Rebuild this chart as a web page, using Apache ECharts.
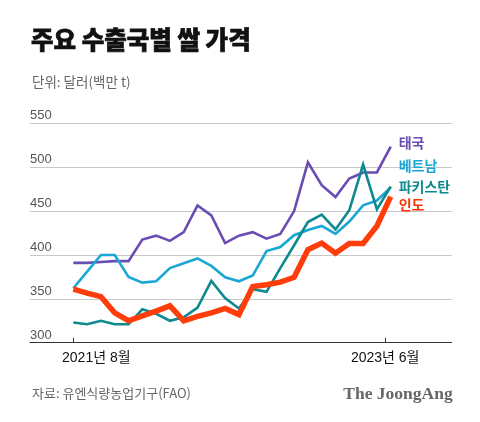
<!DOCTYPE html>
<html>
<head>
<meta charset="utf-8">
<script src="https://cdn.jsdelivr.net/npm/echarts@6/dist/echarts.min.js"></script>
<style>
  html, body { margin: 0; padding: 0; background: #fff; }
  #chart { width: 480px; height: 422px; }
</style>
</head>
<body>
<div id="chart"></div>
<script>
// Monthly export prices (USD per tonne), Aug 2021 – Jul 2023
const months = [
  '2021-08','2021-09','2021-10','2021-11','2021-12',
  '2022-01','2022-02','2022-03','2022-04','2022-05','2022-06','2022-07','2022-08','2022-09','2022-10','2022-11','2022-12',
  '2023-01','2023-02','2023-03','2023-04','2023-05','2023-06','2023-07'
];
const seriesNames = ['태국', '베트남', '파키스탄', '인도'];
const thai     = [391, 391, 392, 393, 393, 417.5, 422, 416, 426, 456.5, 445, 413.5, 422, 426, 418.5, 424, 450, 505.5, 479.5, 466, 487, 494, 494, 523.5];
const vietnam  = [362, 381, 400, 400, 375, 368.5, 370, 385, 390.5, 396, 387.5, 374.5, 370, 376.5, 404.5, 409, 422.5, 428.5, 433, 424, 438, 456.5, 462, 477];
const pakistan = [323, 321, 325, 321, 321, 338, 333, 325, 329, 340, 370.5, 351, 339, 361, 358, 385, 411, 437.5, 446, 429, 451, 503, 452, 478];
const india    = [361, 356.5, 352.5, 334, 325, 330.5, 336, 342, 325, 330, 334, 339, 332, 364, 366, 369, 374.5, 406, 413.5, 402, 413, 413, 433, 466.5];
const yTickValues = [300, 350, 400, 450, 500, 550];
const xTickMonths = ['2021-08', '2023-06'];
const xTickLabels = ['2021년 8월', '2023년 6월'];

const title = '주요 수출국별 쌀 가격';
const unitText = '단위: 달러(백만 t)';
const sourceText = '자료: 유엔식량농업기구(FAO)';
const brandText = 'The JoongAng';

const colors = ['#6a4db3', '#1aa7d4', '#0e8a8e', '#ff3d0a'];
const labelColors = ['#6a4db3', '#1aa7d4', '#0e8a8e', '#ff3300'];
const widths = [2.6, 2.6, 2.6, 5.5];
const labelOffsets = [[0, -4], [0, -22], [0, 0], [0, 8]];
const allData = [thai, vietnam, pakistan, india];

const KR = '"Noto Sans CJK KR", "Noto Sans", sans-serif';
const LAT = '"Liberation Sans", "Noto Sans CJK KR", sans-serif';

const chart = echarts.init(document.getElementById('chart'), null, { renderer: 'canvas' });

const tickIdx = xTickMonths.map(m => months.indexOf(m));
// Jun 2023 tick sits slightly right of its data position in the reference
const tickPos = [tickIdx[0], tickIdx[1] + 0.6];

const option = {
  animation: false,
  backgroundColor: '#fff',
  title: [
    { text: title, left: 31, top: 27, padding: 0,
      textStyle: { fontFamily: KR, fontSize: 24.5, fontWeight: 900, color: '#111',
                   textBorderColor: '#111', textBorderWidth: 0.7 } },
    { text: unitText, left: 32, top: 75, padding: 0,
      textStyle: { fontFamily: KR, fontSize: 13.5, fontWeight: 'normal', color: '#666' } },
    { text: sourceText, left: 32, top: 387, padding: 0,
      textStyle: { fontFamily: KR, fontSize: 13, fontWeight: 'normal', color: '#666' } },
    { text: brandText, right: 27.3, top: 385, padding: 0,
      textStyle: { fontFamily: '"Liberation Serif", "DejaVu Serif", serif', fontSize: 17.5, fontWeight: 'bold', color: '#666' } }
  ],
  grid: { left: 30, right: 28.3, top: 123.3, bottom: 79.3, containLabel: false },
  xAxis: {
    type: 'value',
    min: -3.14,
    max: 27.42,
    splitLine: { show: false },
    axisLine: { show: true, onZero: false, lineStyle: { color: '#333', width: 1 } },
    axisTick: { show: true, inside: true, length: 5, customValues: tickPos, lineStyle: { color: '#333' } },
    axisLabel: {
      show: true,
      customValues: tickPos,
      margin: 8,
      fontFamily: LAT,
      fontSize: 14,
      color: '#111',
      formatter: function (v) {
        const i = tickPos.indexOf(v);
        if (i === 0) return '{first|' + xTickLabels[0] + '}';
        if (i === 1) return xTickLabels[1];
        return '';
      },
      rich: {
        first: { fontFamily: LAT, fontSize: 14, color: '#111', padding: [0, 0, 0, 46] }
      }
    }
  },
  yAxis: {
    type: 'value',
    min: yTickValues[0],
    max: yTickValues[yTickValues.length - 1],
    interval: 50,
    axisLine: { show: false },
    axisTick: { show: false },
    splitLine: { show: true, lineStyle: { color: '#c8c8c8', width: 1 } },
    axisLabel: {
      inside: true,
      margin: 0,
      align: 'left',
      verticalAlign: 'bottom',
      padding: [0, 0, 1, 0],
      fontFamily: LAT,
      fontSize: 13,
      color: '#555'
    }
  },
  series: seriesNames.map((name, s) => ({
    name: name,
    type: 'line',
    data: allData[s].map((v, i) => [i, v]),
    symbol: 'none',
    lineStyle: { color: colors[s], width: widths[s], join: 'miter' },
    itemStyle: { color: colors[s] },
    z: 2 + s,
    endLabel: {
      show: true,
      formatter: '{a}',
      distance: 8,
      offset: labelOffsets[s],
      fontFamily: KR,
      fontSize: 14,
      fontWeight: 'bold',
      color: labelColors[s]
    }
  }))
};

chart.setOption(option);
</script>
</body>
</html>
